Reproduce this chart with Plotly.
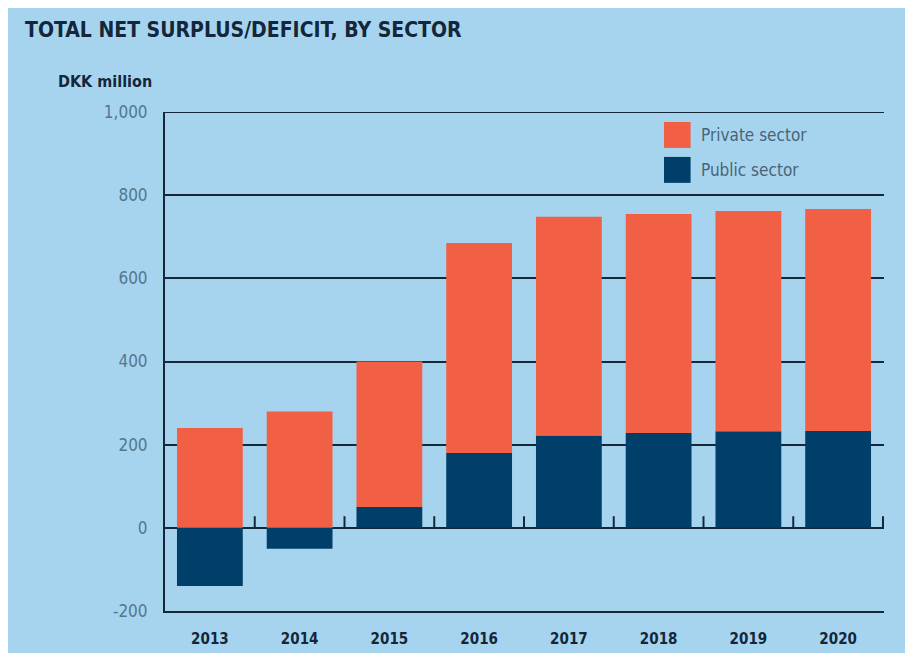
import plotly.graph_objects as go

years = ["2013", "2014", "2015", "2016", "2017", "2018", "2019", "2020"]
public_sector = [-140, -50, 50, 180, 222, 228, 232, 233]
private_sector = [240, 280, 350, 505, 526, 527, 530, 534]
y_tickvals = [-200, 0, 200, 400, 600, 800, 1000]
y_ticktext = ["-200", "0", "200", "400", "600", "800", "1,000"]

BG = "#a6d4ee"
ORANGE = "#f15f45"
NAVY = "#003f69"
LINE = "#14283a"
TICKC = "#55768c"
FONT = "DejaVu Sans Condensed"

fig = go.Figure()
fig.add_trace(go.Bar(x=years, y=public_sector, name="Public sector",
                     marker=dict(color=NAVY, line=dict(width=0))))
fig.add_trace(go.Bar(x=years, y=private_sector, name="Private sector",
                     marker=dict(color=ORANGE, line=dict(width=0))))

shapes = []
# small tick marks on the zero line between categories
for i in range(len(years)):
    shapes.append(dict(type="line", xref="x", yref="y", x0=i + 0.5, x1=i + 0.5,
                       y0=0, y1=28, line=dict(color=LINE, width=2), layer="below"))
# top gridline at the range maximum (Plotly omits it at the edge)
shapes.append(dict(type="line", xref="paper", yref="y", x0=0, x1=1,
                   y0=y_tickvals[-1], y1=y_tickvals[-1], line=dict(color=LINE, width=2), layer="below"))

# manual legend
legend_items = [("Private sector", ORANGE, 0.980, 0.928), ("Public sector", NAVY, 0.910, 0.858)]
annotations = []
for label, col, y1, y0 in legend_items:
    shapes.append(dict(type="rect", xref="paper", yref="paper", x0=0.694, x1=0.731,
                       y0=y0, y1=y1, fillcolor=col, line=dict(width=0)))
    annotations.append(dict(text=label, xref="paper", yref="paper", x=0.743, y=(y0 + y1) / 2,
                            xanchor="left", yanchor="middle", showarrow=False,
                            font=dict(family=FONT, size=17, color="#4a6477")))

annotations.append(dict(text="<b>TOTAL NET SURPLUS/DEFICIT, BY SECTOR</b>", xref="paper", yref="paper",
                        x=-0.197, y=1.165, xanchor="left", yanchor="middle", showarrow=False,
                        font=dict(family=FONT, size=21, color="#14263a")))
annotations.append(dict(text="<b>DKK million</b>", xref="paper", yref="paper",
                        x=-0.151, y=1.062, xanchor="left", yanchor="middle", showarrow=False,
                        font=dict(family=FONT, size=16, color="#14263a")))

fig.update_layout(
    width=913, height=653,
    margin=dict(l=157, r=37, t=104, b=50),
    paper_bgcolor=BG, plot_bgcolor=BG,
    barmode="relative", bargap=0.267,
    showlegend=False,
    shapes=shapes, annotations=annotations,
    xaxis=dict(showgrid=False, showline=True, linecolor=LINE, linewidth=2,
               tickfont=dict(family=FONT, size=15, color="#14263a", weight="bold"),
               ticks="", ticklabelstandoff=13),
    yaxis=dict(range=[-200, 1000], tickvals=y_tickvals, ticktext=y_ticktext,
               showgrid=True, gridcolor=LINE, gridwidth=2,
               zeroline=True, zerolinecolor=LINE, zerolinewidth=2,
               showline=True, linecolor=LINE, linewidth=2,
               tickfont=dict(family=FONT, size=17, color=TICKC),
               ticks="", ticklabelstandoff=12),
)

fig.write_html("out.html")
